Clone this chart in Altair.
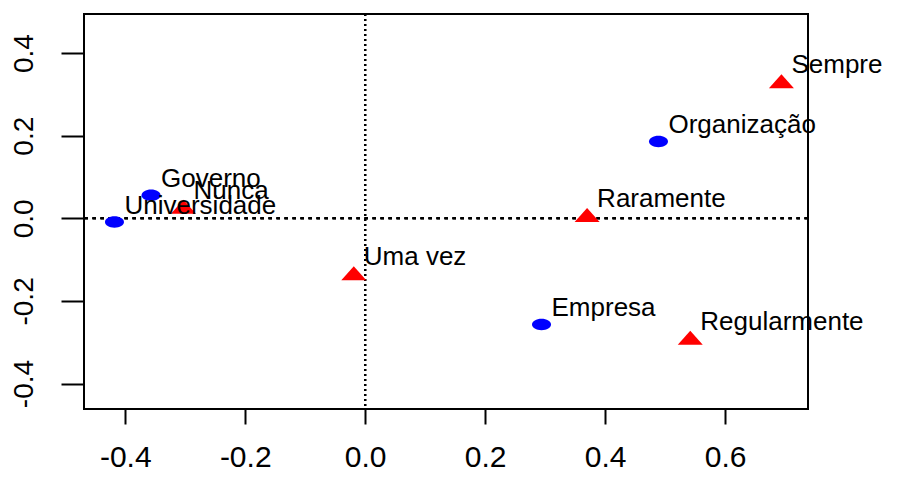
import altair as alt
import pandas as pd

# Column points (blue): organisations
row_names = ["Universidade", "Governo", "Organização", "Empresa"]
row_x = [-0.418, -0.357, 0.489, 0.294]
row_y = [-0.009, 0.056, 0.186, -0.257]

# Row points (red): frequency categories
col_names = ["Nunca", "Uma vez", "Raramente", "Sempre", "Regularmente"]
col_x = [-0.303, -0.019, 0.370, 0.694, 0.542]
col_y = [0.028, -0.133, 0.008, 0.332, -0.289]

x_ticks = [-0.4, -0.2, 0.0, 0.2, 0.4, 0.6]
y_ticks = [-0.4, -0.2, 0.0, 0.2, 0.4]
x_domain = [-0.4688, 0.7383]
y_domain = [-0.4617, 0.4947]

rows = pd.DataFrame({"label": row_names, "x": row_x, "y": row_y})
cols = pd.DataFrame({"label": col_names, "x": col_x, "y": col_y})

FONT = "Liberation Sans"
label_expr = "replace(format(datum.value, '.1f'), '\u2212', '-')"

xs = alt.Scale(domain=x_domain, nice=False, zero=False)
ys = alt.Scale(domain=y_domain, nice=False, zero=False)

x_axis = alt.Axis(values=x_ticks, labelExpr=label_expr, title=None, domain=False, grid=False,
                  tickSize=15, tickWidth=2, tickColor="black", labelFont=FONT, labelFontSize=30,
                  labelColor="black", labelBaseline="alphabetic", labelPadding=42, labelAlign="center")
y_axis = alt.Axis(values=y_ticks, labelExpr=label_expr, title=None, domain=False, grid=False,
                  tickSize=23, tickWidth=2, tickColor="black", labelFont=FONT, labelFontSize=28,
                  labelColor="black", labelAngle=-90, labelAlign="center", labelBaseline="alphabetic",
                  labelPadding=29)

base_rows = alt.Chart(rows)
base_cols = alt.Chart(cols)

ellipse = "M-1,0A1,0.6,0,1,0,1,0A1,0.6,0,1,0,-1,0Z"
triangle = "M0,-0.56L1,0.56L-1,0.56Z"

vline = alt.Chart(rows).mark_rule(color="black", strokeWidth=2, strokeDash=[2, 3]).encode(
    x=alt.datum(0, scale=xs, axis=x_axis)
)
hline = alt.Chart(rows).mark_rule(color="black", strokeWidth=2, strokeDash=[3.5, 4.5]).encode(
    y=alt.datum(0, scale=ys, axis=y_axis)
)

row_pts = base_rows.mark_point(shape=ellipse, size=361, filled=True, opacity=1, color="#0000FF", strokeWidth=0).encode(
    x=alt.X("x:Q", scale=xs, axis=x_axis), y=alt.Y("y:Q", scale=ys, axis=y_axis)
)
col_pts = base_cols.mark_point(shape=triangle, size=625, filled=True, opacity=1, color="#FF0000", strokeWidth=0).encode(
    x=alt.X("x:Q", scale=xs, axis=x_axis), y=alt.Y("y:Q", scale=ys, axis=y_axis)
)
text_kw = dict(align="left", baseline="alphabetic", dx=10, dy=-8, font=FONT, fontSize=26, color="black")
row_txt = base_rows.mark_text(**text_kw).encode(x="x:Q", y="y:Q", text="label:N")
col_txt = base_cols.mark_text(**text_kw).encode(x="x:Q", y="y:Q", text="label:N")

chart = alt.layer(vline, hline, row_pts, col_pts, row_txt, col_txt).properties(
    width=724, height=395,
    autosize=alt.AutoSizeParams(type="none"),
    padding={"left": 76, "top": 6, "right": 89, "bottom": 62},
).configure(
    background="white",
    view=alt.ViewConfig(stroke="black", strokeWidth=2),
)

chart.save("out.html", embed_options={"renderer": "svg", "actions": False})
